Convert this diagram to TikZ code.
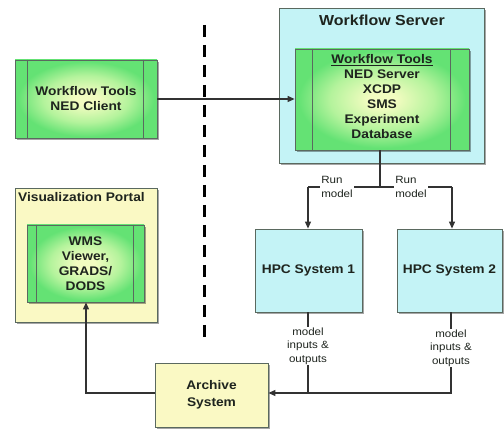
\documentclass[tikz,border=0pt]{standalone}
\usepackage{fontspec}
\setmainfont{Liberation Sans}[FakeStretch=1.1]
\usetikzlibrary{arrows.meta,shadows,calc}
\definecolor{cyanfill}{RGB}{196,243,246}
\definecolor{yellowfill}{RGB}{250,249,196}
\definecolor{greenedge}{RGB}{100,226,116}
\definecolor{greenmid}{RGB}{180,243,156}
\definecolor{greencenter}{RGB}{242,252,192}
\definecolor{boxline}{RGB}{90,105,95}
\definecolor{ink}{RGB}{30,36,30}
\definecolor{wire}{RGB}{50,50,50}
\pgfdeclareradialshading{greenglow}{\pgfpoint{0bp}{0bp}}{color(0bp)=(greencenter); color(4bp)=(greencenter); color(15bp)=(greenmid); color(24bp)=(greenedge); color(50bp)=(greenedge)}
\begin{document}
\begin{tikzpicture}[x=1pt,y=-1pt,
  shadowed/.style={drop shadow={shadow xshift=1.5pt,shadow yshift=-1.8pt,opacity=0.35,fill=black}},
  boxbase/.style={draw=boxline,line width=0.8pt,shadowed,inner sep=0pt,text=ink,align=center,
    font=\bfseries\fontsize{12.5}{15}\selectfont},
  serverbox/.style={boxbase,fill=cyanfill},
  yellowbox/.style={boxbase,fill=yellowfill},
  procbox/.style={boxbase,shading=greenglow},
  boldtext/.style={text=ink,align=center,inner sep=0pt,font=\bfseries\fontsize{12.5}{15}\selectfont},
  titletext/.style={text=ink,inner sep=0pt,font=\bfseries\fontsize{14.5}{17}\selectfont},
  smalllabel/.style={fill=white,text=ink,align=left,inner sep=1pt,font=\fontsize{10.5}{13.5}\selectfont},
  iolabel/.style={smalllabel,align=center},
  wireline/.style={draw=wire,line width=1.1pt},
  arr/.style={wireline,-{Triangle[length=7pt,width=6pt]}},
  strip/.style={draw=boxline,line width=0.8pt}
]
\useasboundingbox (0,0) rectangle (504,430);

% Left side
\node[procbox,minimum width=142pt,minimum height=78pt] (nedc) at (86,99) {Workflow Tools\\NED Client};
\draw[strip] ($(nedc.north west)+(13,0)$) -- ($(nedc.south west)+(13,0)$);
\draw[strip] ($(nedc.north east)+(-14,0)$) -- ($(nedc.south east)+(-14,0)$);

\node[yellowbox,minimum width=142pt,minimum height=134pt] (vis) at (86,255) {};
\node[titletext,anchor=west,font=\bfseries\fontsize{12.5}{15}\selectfont] (vistitle) at (18,197) {Visualization Portal};
\node[procbox,minimum width=117pt,minimum height=77pt] (visin) at (85.5,263.5) {WMS\\Viewer,\\GRADS/\\DODS};
\draw[strip] ($(visin.north west)+(10,0)$) -- ($(visin.south west)+(10,0)$);
\draw[strip] ($(visin.north east)+(-11,0)$) -- ($(visin.south east)+(-11,0)$);

% Server
\node[serverbox,minimum width=205pt,minimum height=155pt] (server) at (381.5,85.5) {};
\node[titletext] (servertitle) at (382,20) {Workflow Server};
\node[procbox,minimum width=174pt,minimum height=101pt] (tools) at (382,99.5) {};
\draw[strip] ($(tools.north west)+(18,0)$) -- ($(tools.south west)+(18,0)$);
\draw[strip] ($(tools.north east)+(-19,0)$) -- ($(tools.south east)+(-19,0)$);
\node[boldtext] (toolstext) at (382,97) {\underline{Workflow Tools}\\NED Server\\XCDP\\SMS\\Experiment\\Database};

% HPC and archive
\node[serverbox,minimum width=107pt,minimum height=83pt] (hpc1) at (308.5,270.5) {HPC System 1};
\node[serverbox,minimum width=105pt,minimum height=83pt] (hpc2) at (449.5,270.5) {HPC System 2};
\node[yellowbox,minimum width=113pt,minimum height=64pt,font=\bfseries\fontsize{12.5}{16.5}\selectfont] (archive) at (211.5,395) {Archive\\System};

% Dashed divider
\coordinate (dtop) at (204,25);
\coordinate (dbot) at (204,340);
\draw[draw=black,line width=3pt,dash pattern=on 12pt off 8pt] (dtop) -- (dbot);

% Client to server
\draw[arr] (nedc.east) -- (tools.west |- nedc.east);

% Server to HPC
\coordinate (tee) at (380,187);
\coordinate (busL) at (308,187);
\coordinate (busR) at (452,187);
\draw[wireline] (tee |- tools.south) -- (tee);
\draw[wireline] (busL) -- (busR);
\draw[arr] (busL) -- (busL |- hpc1.north);
\draw[arr] (busR) -- (busR |- hpc2.north);
\node[smalllabel] (run1) at (337,187) {Run\\model};
\node[smalllabel] (run2) at (411,187) {Run\\model};

% HPC to archive
\coordinate (j1) at (308,393);
\coordinate (j2) at (451,393);
\draw[wireline] (j1 |- hpc1.south) -- (j1);
\draw[arr] (j2 |- hpc2.south) -- (j2) -- (archive.east |- j2);
\node[iolabel] (io1) at (308,346) {model\\inputs \&\\outputs};
\node[iolabel] (io2) at (451,348) {model\\inputs \&\\outputs};

% Archive to visualization
\coordinate (j3) at (86,393);
\draw[arr] (archive.west |- j3) -- (j3) -- (j3 |- visin.south);
\end{tikzpicture}
\end{document}
